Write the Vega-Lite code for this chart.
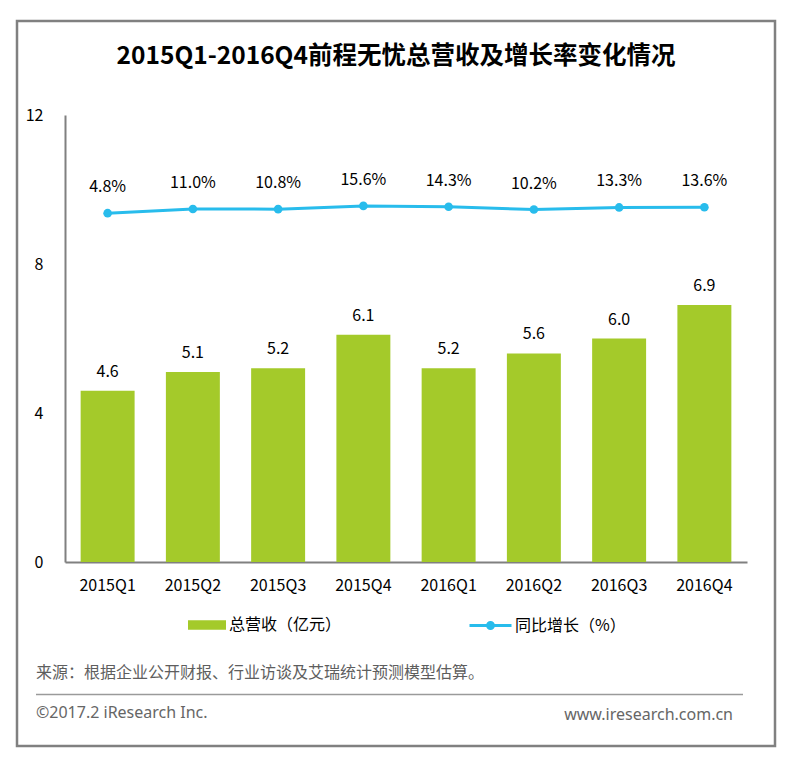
{
  "$schema": "https://vega.github.io/schema/vega-lite/v6.json",
  "width": 682,
  "height": 447,
  "autosize": {"type": "none"},
  "padding": {"left": 65, "top": 115, "right": 43, "bottom": 208},
  "background": "white",
  "config": {"view": {"stroke": null}, "font": "Noto Sans CJK SC"},
  "title": {
    "text": "2015Q1-2016Q4前程无忧总营收及增长率变化情况",
    "font": "Noto Sans CJK SC",
    "fontSize": 24.5,
    "fontWeight": "bold",
    "color": "#000000",
    "anchor": "middle",
    "dx": -10,
    "offset": -62,
    "baseline": "middle"
  },
  "data": {
    "values": [
      {"quarter": "2015Q1", "revenue": 4.6, "growth": 0.048},
      {"quarter": "2015Q2", "revenue": 5.1, "growth": 0.110},
      {"quarter": "2015Q3", "revenue": 5.2, "growth": 0.108},
      {"quarter": "2015Q4", "revenue": 6.1, "growth": 0.156},
      {"quarter": "2016Q1", "revenue": 5.2, "growth": 0.143},
      {"quarter": "2016Q2", "revenue": 5.6, "growth": 0.102},
      {"quarter": "2016Q3", "revenue": 6.0, "growth": 0.133},
      {"quarter": "2016Q4", "revenue": 6.9, "growth": 0.136}
    ]
  },
  "layer": [
    {
      "layer": [
        {
          "layer": [
            {
              "mark": {"type": "bar"},
              "encoding": {
                "x": {
                  "field": "quarter", "type": "nominal", "sort": null,
                  "scale": {"paddingInner": 0.367, "paddingOuter": 0.1835},
                  "axis": {"title": null, "labelAngle": 0, "labelFontSize": 16, "labelColor": "#000000", "labelPadding": 15, "ticks": false, "domainColor": "#808080", "domainWidth": 2, "labelFont": "Noto Sans CJK SC"}
                },
                "y": {
                  "field": "revenue", "type": "quantitative",
                  "scale": {"domain": [0, 12], "nice": false},
                  "axis": {"title": null, "values": [0, 4, 8, 12], "grid": false, "ticks": false, "domainColor": "#808080", "domainWidth": 2, "labelFontSize": 16, "labelPadding": 22, "labelColor": "#000000", "labelFont": "Noto Sans CJK SC"}
                },
                "color": {
                  "datum": "总营收（亿元）", "type": "nominal",
                  "scale": {"range": ["#a4ca2a"]},
                  "legend": {"orient": "none", "legendX": 123, "legendY": 491, "title": null, "symbolType": "M-1,-0.245H1V0.245H-1Z", "symbolSize": 1444, "symbolStrokeWidth": 0, "labelFontSize": 16, "labelOffset": 3, "padding": 0, "labelColor": "#000000", "labelFont": "Noto Sans CJK SC"}
                }
              }
            },
            {
              "mark": {"type": "text", "dy": -19, "fontSize": 16, "baseline": "middle", "color": "#000000"},
              "encoding": {
                "x": {"field": "quarter", "type": "nominal", "sort": null},
                "y": {"field": "revenue", "type": "quantitative", "scale": {"domain": [0, 12], "nice": false}},
                "text": {"field": "revenue", "type": "quantitative", "format": ".1f"}
              }
            }
          ]
        },
        {
          "layer": [
            {
              "mark": {"type": "line", "strokeWidth": 3},
              "encoding": {
                "x": {"field": "quarter", "type": "nominal", "sort": null},
                "y": {"field": "growth", "type": "quantitative", "scale": {"domain": [-5.11, 1.5], "nice": false, "zero": false}, "axis": null},
                "stroke": {
                  "datum": "同比增长（%）", "type": "nominal",
                  "scale": {"range": ["#28bcec"]},
                  "legend": {"orient": "none", "legendX": 403, "legendY": 488, "title": null, "symbolType": "M-1,0H1M-0.14,0A0.14,0.14,0,1,1,0.14,0A0.14,0.14,0,1,1,-0.14,0Z", "symbolSize": 1764, "symbolStrokeWidth": 3, "symbolFillColor": "#28bcec", "labelFontSize": 16, "labelOffset": 2, "padding": 0, "labelColor": "#000000", "labelFont": "Noto Sans CJK SC"}
                }
              }
            },
            {
              "mark": {"type": "point", "filled": true, "size": 75, "color": "#28bcec", "opacity": 1},
              "encoding": {
                "x": {"field": "quarter", "type": "nominal", "sort": null},
                "y": {"field": "growth", "type": "quantitative", "scale": {"domain": [-5.11, 1.5], "nice": false, "zero": false}, "axis": null}
              }
            },
            {
              "mark": {"type": "text", "dy": -26, "fontSize": 16, "baseline": "middle", "color": "#000000"},
              "encoding": {
                "x": {"field": "quarter", "type": "nominal", "sort": null},
                "y": {"field": "growth", "type": "quantitative", "scale": {"domain": [-5.11, 1.5], "nice": false, "zero": false}, "axis": null},
                "text": {"field": "growth", "type": "quantitative", "format": ".1%"}
              }
            }
          ]
        }
      ],
      "resolve": {"scale": {"y": "independent"}}
    },
    {
      "data": {"values": [{"note": "frame"}]},
      "layer": [
        {
          "mark": {"type": "rect", "fillOpacity": 0, "stroke": "#808080", "strokeWidth": 2.5},
          "encoding": {
            "x": {"datum": 17, "type": "quantitative", "scale": {"domain": [65, 747], "nice": false, "zero": false}, "axis": null},
            "x2": {"datum": 775},
            "y": {"datum": 21, "type": "quantitative", "scale": {"domain": [115, 562], "nice": false, "zero": false, "reverse": true}, "axis": null},
            "y2": {"datum": 746}
          }
        },
        {
          "mark": {"type": "rule", "stroke": "#9a9a9a", "strokeWidth": 1.5},
          "encoding": {
            "x": {"datum": 36, "type": "quantitative"},
            "x2": {"datum": 743},
            "y": {"datum": 694.5, "type": "quantitative"}
          }
        },
        {
          "mark": {"type": "text", "align": "left", "baseline": "middle", "fontSize": 16, "color": "#5e5e5e", "font": "Noto Sans CJK SC"},
          "encoding": {
            "x": {"datum": 36, "type": "quantitative"},
            "y": {"datum": 673, "type": "quantitative"},
            "text": {"value": "来源：根据企业公开财报、行业访谈及艾瑞统计预测模型估算。"}
          }
        },
        {
          "mark": {"type": "text", "align": "left", "baseline": "middle", "fontSize": 16, "color": "#666666", "font": "Noto Sans"},
          "encoding": {
            "x": {"datum": 36, "type": "quantitative"},
            "y": {"datum": 713, "type": "quantitative"},
            "text": {"value": "©2017.2 iResearch Inc."}
          }
        },
        {
          "mark": {"type": "text", "align": "right", "baseline": "middle", "fontSize": 16, "color": "#666666", "font": "Noto Sans"},
          "encoding": {
            "x": {"datum": 733, "type": "quantitative"},
            "y": {"datum": 715, "type": "quantitative"},
            "text": {"value": "www.iresearch.com.cn"}
          }
        }
      ]
    }
  ],
  "resolve": {"scale": {"x": "independent", "y": "independent"}}
}
